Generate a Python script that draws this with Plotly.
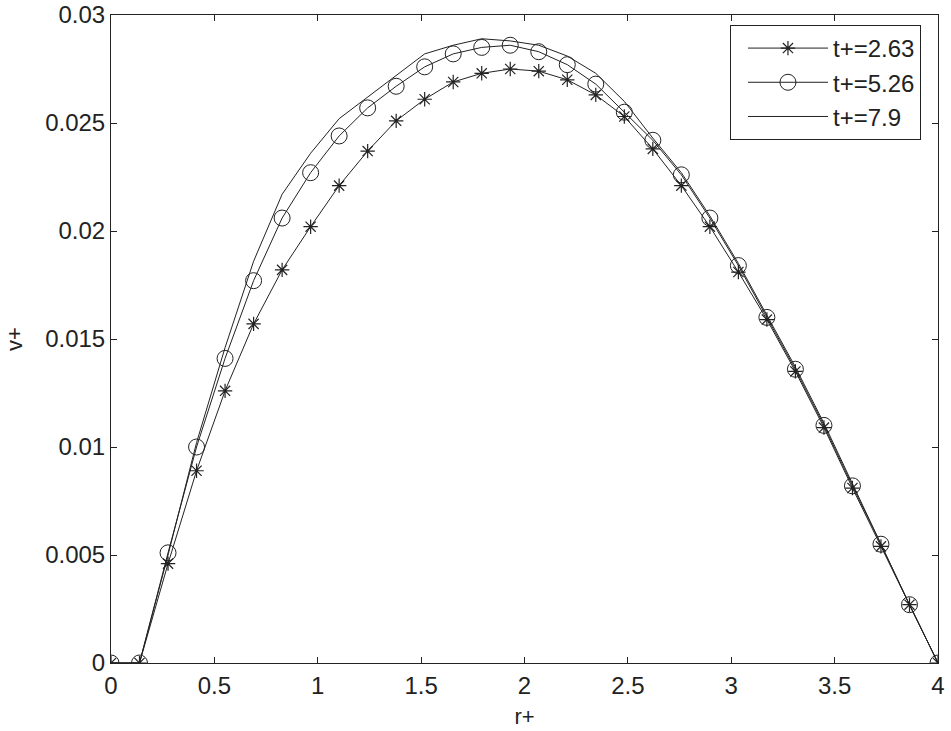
import plotly.graph_objects as go

r_plus = [0.0, 0.1379, 0.2759, 0.4138, 0.5517, 0.6897, 0.8276, 0.9655, 1.1034, 1.2414,
          1.3793, 1.5172, 1.6552, 1.7931, 1.9310, 2.0690, 2.2069, 2.3448, 2.4828, 2.6207,
          2.7586, 2.8966, 3.0345, 3.1724, 3.3103, 3.4483, 3.5862, 3.7241, 3.8621, 4.0]

v_t263 = [0.0, 0.0, 0.0046, 0.0089, 0.0126, 0.0157, 0.0182, 0.0202, 0.0221, 0.0237,
          0.0251, 0.0261, 0.0269, 0.0273, 0.0275, 0.0274, 0.0270, 0.0263, 0.0253, 0.0238,
          0.0221, 0.0202, 0.0181, 0.0159, 0.0135, 0.0109, 0.0081, 0.0054, 0.0027, 0.0]

v_t526 = [0.0, 0.0, 0.0051, 0.0100, 0.0141, 0.0177, 0.0206, 0.0227, 0.0244, 0.0257,
          0.0267, 0.0276, 0.0282, 0.0285, 0.0286, 0.0283, 0.0277, 0.0268, 0.0255, 0.0242,
          0.0226, 0.0206, 0.0184, 0.0160, 0.0136, 0.0110, 0.0082, 0.0055, 0.0027, 0.0]

v_t79 = [0.0, 0.0, 0.0050, 0.0102, 0.0146, 0.0186, 0.0217, 0.0236, 0.0252, 0.0262,
         0.0272, 0.0282, 0.0286, 0.0289, 0.0288, 0.0286, 0.0281, 0.0273, 0.0260, 0.0243,
         0.0227, 0.0207, 0.0185, 0.0161, 0.0137, 0.0111, 0.0083, 0.0055, 0.0027, 0.0]

series_names = ["t+=2.63", "t+=5.26", "t+=7.9"]

x_ticks = [0, 0.5, 1, 1.5, 2, 2.5, 3, 3.5, 4]
x_ticktext = ["0", "0.5", "1", "1.5", "2", "2.5", "3", "3.5", "4"]
y_ticks = [0, 0.005, 0.01, 0.015, 0.02, 0.025, 0.03]
y_ticktext = ["0", "0.005", "0.01", "0.015", "0.02", "0.025", "0.03"]

FONT = "Liberation Sans, Arial, sans-serif"
INK = "#222222"

fig = go.Figure()
fig.add_trace(go.Scatter(
    x=r_plus, y=v_t263, name=series_names[0], mode="lines+markers",
    line=dict(color=INK, width=1),
    marker=dict(symbol="asterisk-open", size=12, color=INK,
                line=dict(color=INK, width=1.2)),
))
fig.add_trace(go.Scatter(
    x=r_plus, y=v_t526, name=series_names[1], mode="lines+markers",
    line=dict(color=INK, width=1),
    marker=dict(symbol="circle-open", size=16, color=INK,
                line=dict(color=INK, width=1)),
))
fig.add_trace(go.Scatter(
    x=r_plus, y=v_t79, name=series_names[2], mode="lines",
    line=dict(color=INK, width=1),
))

axis_common = dict(
    showgrid=False, zeroline=False,
    showline=True, linecolor=INK, linewidth=1, mirror="allticks",
    ticks="inside", ticklen=6, tickcolor=INK, tickwidth=1,
    tickfont=dict(family=FONT, size=24, color=INK),
    ticklabeloverflow="allow", automargin=False,
)

fig.update_xaxes(range=[0, 4], tickvals=x_ticks, ticktext=x_ticktext,
                 ticklabelstandoff=1,
                 title=dict(text="r+", font=dict(family=FONT, size=22, color=INK), standoff=10),
                 **axis_common)
fig.update_yaxes(range=[0, 0.03], tickvals=y_ticks, ticktext=y_ticktext,
                 title=dict(text="v+", font=dict(family=FONT, size=22, color=INK), standoff=16),
                 **axis_common)

fig.update_layout(
    width=951, height=731,
    margin=dict(l=111, r=13, t=15, b=68, autoexpand=False),
    paper_bgcolor="white", plot_bgcolor="white",
    showlegend=True,
    legend=dict(
        x=0.9794, y=0.9846, xanchor="right", yanchor="top",
        bgcolor="white", bordercolor=INK, borderwidth=1,
        font=dict(family=FONT, size=24, color=INK),
        itemwidth=80, indentation=12, tracegroupgap=0,
    ),
)

fig.write_html(
    "out.html",
    config={"displayModeBar": False},
    post_script=(
        "document.body.style.margin='0';"
        "document.body.style.overflow='hidden';"
        "document.documentElement.style.overflow='hidden';"
    ),
)
